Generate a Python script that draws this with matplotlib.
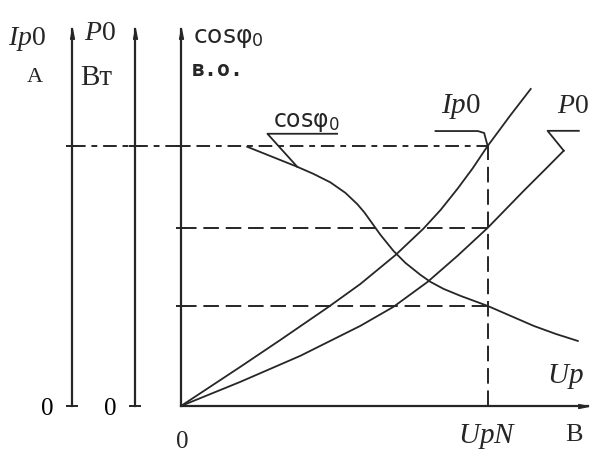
import matplotlib.pyplot as plt
from matplotlib import transforms as mtransforms

plt.rcParams['font.family'] = 'Liberation Serif'
plt.rcParams['mathtext.fontset'] = 'custom'
plt.rcParams['mathtext.rm'] = 'Liberation Serif'
plt.rcParams['mathtext.it'] = 'Liberation Serif:italic'
plt.rcParams['mathtext.sf'] = 'DejaVu Sans'

INK = '#262626'

# rated point of the no-load test
u_n = 220      # V
i_n = 1.6      # A
p_n = 60       # W
cos_n = 0.30

# no-load current Ip0(Up)
u_i = [0, 42.4, 71.2, 105.7, 128.7, 153.9, 174.0, 186.2, 198.4, 209.2, 220, 236.5, 250.9]
i_p0 = [0, 0.240, 0.406, 0.609, 0.751, 0.929, 1.092, 1.206, 1.337, 1.462, 1.60, 1.791, 1.951]

# no-load losses P0(Up)
u_p = [0, 42.4, 85.6, 128.7, 152.4, 176.9, 198.4, 220, 245.9, 261.7, 274.6]
p_0 = [0, 8.1, 16.9, 27.0, 33.4, 41.8, 50.6, 60, 72.5, 79.9, 86.0]

# power factor cos(phi0)(Up)
u_c = [47.5, 83.4, 94.9, 107.1, 117.9, 126.5, 131.6, 135.9, 143.1, 152.4,
       161.0, 171.8, 179.0, 188.4, 200.6, 220, 253.1, 268.9, 284.7]
cos_phi = [0.777, 0.717, 0.696, 0.6705, 0.639, 0.605, 0.580, 0.555, 0.513, 0.465,
           0.429, 0.393, 0.372, 0.351, 0.330, 0.30, 0.240, 0.216, 0.195]

# axis ranges
u_max = 292
i_max = 2.32
p_max = 127
cos_max = 1.13


def px(x, y):
    # pixel position -> figure fraction
    return x / 590, 1 - y / 452


fig = plt.figure(figsize=(5.9, 4.52), dpi=100)
ax = fig.add_axes([181 / 590, 45 / 452, 407 / 590, 377 / 452])
ax_i = ax.twinx()
ax_p = ax.twinx()

ax.set_xlim(0, u_max)
ax.set_ylim(0, cos_max)
ax_i.set_ylim(0, i_max)
ax_p.set_ylim(0, p_max)

for s in ('top', 'right'):
    ax.spines[s].set_visible(False)
for s in ('left', 'bottom'):
    ax.spines[s].set_linewidth(1.6)
    ax.spines[s].set_color(INK)

offsets = {ax_i: 109, ax_p: 46}   # distance of the extra scales, px
for a, off in offsets.items():
    for s in ('top', 'right', 'bottom'):
        a.spines[s].set_visible(False)
    a.spines['left'].set_visible(True)
    a.spines['left'].set_position(('outward', off * 0.72))
    a.spines['left'].set_linewidth(1.6)
    a.spines['left'].set_color(INK)
    a.yaxis.tick_left()

# small crosses where the reference lines meet the scales
lw_tick = 1.4
ax.set_yticks([cos_n, p_n / p_max * cos_max, i_n / i_max * cos_max], labels=['', '', ''])
ax.tick_params(axis='y', direction='inout', length=7, width=lw_tick, color=INK)
ax_i.set_yticks([0, i_n], labels=['0', ''])
ax_i.tick_params(axis='y', direction='inout', length=9, width=lw_tick, color=INK,
                 pad=9, labelsize=18)
ax_p.set_yticks([0, i_n / i_max * p_max], labels=['0', ''])
ax_p.tick_params(axis='y', direction='inout', length=9, width=lw_tick, color=INK,
                 pad=9, labelsize=18)

ax.set_xticks([])
ax.annotate('0', xy=(0, 0), xytext=(1, -17), textcoords='offset points',
            ha='center', va='top', fontsize=18, color=INK)
ax.annotate('$UpN$', xy=(u_n, 0), xytext=(0, -11), textcoords='offset points',
            ha='center', va='top', fontsize=21, color=INK)

# arrow heads on the axes
up_head = [(0, 0), (-1.6, -8), (1.6, -8), (0, 0)]
right_head = [(0, 0), (-8, 1.6), (-8, -1.6), (0, 0)]
ax.plot([0], [1], marker=up_head, ms=14, color=INK, transform=ax.transAxes, clip_on=False)
ax.plot([1], [0], marker=right_head, ms=14, color=INK, transform=ax.transAxes, clip_on=False)
for a, off in offsets.items():
    shift = mtransforms.ScaledTranslation(-off / 100, 0, fig.dpi_scale_trans)
    a.plot([0], [1], marker=up_head, ms=14, color=INK,
           transform=a.transAxes + shift, clip_on=False)

# reference lines at rated voltage
u_left = -offsets[ax_i] / 407 * u_max
ax_i.plot([u_left, u_n], [i_n, i_n], color=INK, lw=1.4, ls=(0, (7, 3, 3, 3)), clip_on=False)
ax_p.plot([0, u_n], [p_n, p_n], color=INK, lw=1.4, ls=(0, (8, 3.5)))
ax.plot([0, u_n], [cos_n, cos_n], color=INK, lw=1.4, ls=(0, (8, 3.5)))
ax_i.plot([u_n, u_n], [0, i_n], color=INK, lw=1.4, ls=(0, (8, 3.5)))

# characteristics
ax_i.plot(u_i, i_p0, color=INK, lw=1.3, solid_joinstyle='round')
ax_p.plot(u_p, p_0, color=INK, lw=1.3, solid_joinstyle='round')
ax.plot(u_c, cos_phi, color=INK, lw=1.3, solid_joinstyle='round')

# curve labels with leaders
ax.plot([112, 62, u_c[1]], [0.816, 0.816, cos_phi[1]], color=INK, lw=1.3)
ax.text(90, 0.84, r'$\mathsf{cos\varphi}_{\mathsf{0}}$', fontsize=17,
        ha='center', va='baseline', color=INK)
ax_i.plot([182.6, 213, 217.5, u_n], [1.692, 1.692, 1.68, i_n], color=INK, lw=1.3)
ax_i.text(201, 1.81, r'$Ip\mathrm{0}$', fontsize=21, ha='center', va='baseline', color=INK)
ax_p.plot([285.4, 263, u_p[-1]], [92.7, 92.7, p_0[-1]], color=INK, lw=1.3, clip_on=False)
ax_p.text(281, 99, r'$P\mathrm{0}$', fontsize=20, ha='center', va='baseline', color=INK)

# scale captions
fig.text(*px(8, 45), r'$Ip\mathrm{0}$', fontsize=20, va='baseline', color=INK)
fig.text(*px(27, 82), 'A', fontsize=16, va='baseline', color=INK)
fig.text(*px(84, 40), r'$P\mathrm{0}$', fontsize=20, va='baseline', color=INK)
fig.text(*px(80, 85), 'Вт', fontsize=21, va='baseline', color=INK)
fig.text(*px(193, 43), r'$\mathsf{cos\varphi}_{\mathsf{0}}$', fontsize=18,
         va='baseline', color=INK)
fig.text(*px(192, 76), 'в.о.', fontsize=15.5, fontweight='bold',
         family='DejaVu Sans Mono', va='baseline', color=INK)
fig.text(*px(547, 383), '$Up$', fontsize=21, va='baseline', color=INK)
fig.text(*px(565, 441), 'В', fontsize=19, va='baseline', color=INK)

fig.savefig('out.png', dpi=100)
